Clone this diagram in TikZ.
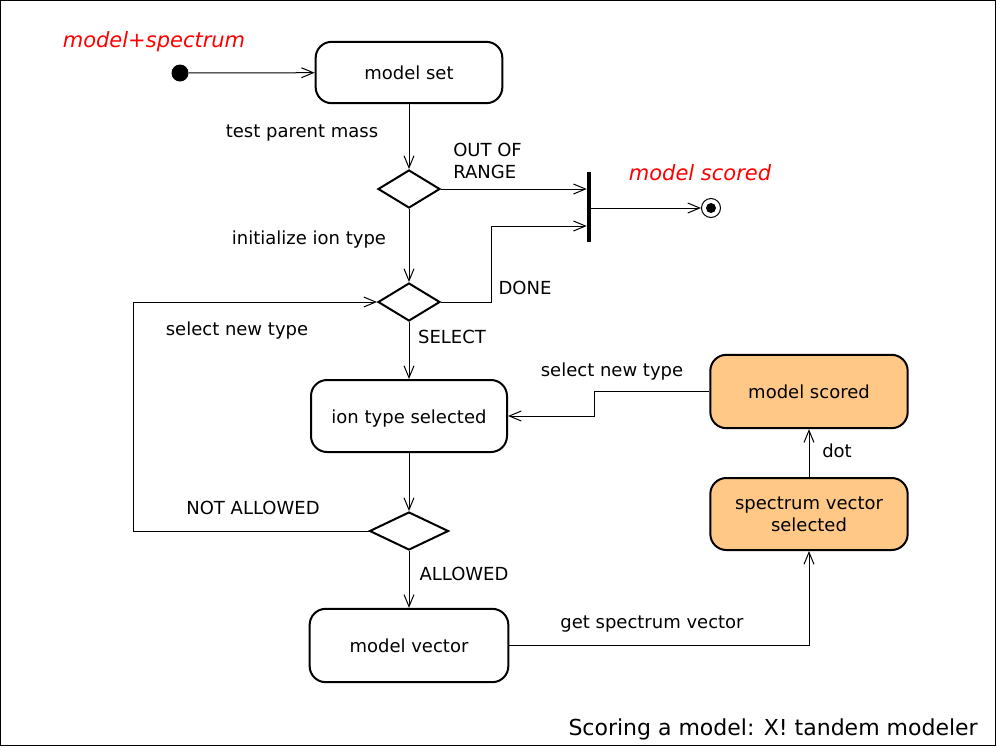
\documentclass[tikz,border=0pt]{standalone}
\usepackage{fontspec}
\setmainfont{DejaVu Sans}
\usetikzlibrary{shapes.geometric,arrows.meta}
\definecolor{scoredfill}{RGB}{255,200,135}
\newcommand{\labfont}{\fontsize{13.5}{16.5}\selectfont}
\tikzset{
  state/.style={draw, line width=1.5pt, rounded corners=12pt, minimum width=148pt, minimum height=54pt, text height=11pt, text depth=0pt, inner sep=0pt, font=\labfont},
  scored/.style={state, fill=scoredfill},
  choice/.style={diamond, draw, line width=1.5pt, minimum width=46.5pt, minimum height=28.5pt, inner sep=0pt},
  start/.style={circle, fill, minimum size=12.75pt, inner sep=0pt},
  final/.style={circle, draw, line width=0.75pt, minimum size=14.25pt, inner sep=0pt},
  syncbar/.style={fill, inner sep=0pt, minimum width=3pt, minimum height=52.5pt},
  lab/.style={font=\labfont, inner sep=0pt, anchor=base},
  note/.style={text=red, font=\itshape\fontsize{15.75}{18}\selectfont, inner sep=0pt, anchor=base},
  flow/.style={line width=0.75pt, -{Straight Barb[length=9pt,width=7.5pt]}}
}
\begin{document}
\begin{tikzpicture}[x=0.75pt, y=-0.75pt]
  \useasboundingbox (0,0) rectangle (997,747);
  \draw[line width=0.75pt] (0.5,0.5) rectangle (995.5,745.5);
  % states
  \node[start] (init) at (180,73) {};
  \node[state, minimum width=140pt, minimum height=46pt] (set) at (409,72.5) {model set};
  \node[choice] (mass) at (409,189) {};
  \node[syncbar] (bar) at (589,207) {};
  \node[final] (fin) at (711,208) {};
  \fill (fin.center) circle (3.75pt);
  \node[choice] (type) at (409,302) {};
  \node[state, minimum width=147pt] (ion) at (409,416) {ion type selected};
  \node[choice, minimum width=59.25pt] (allow) at (409,531) {};
  \node[state, minimum width=149pt, minimum height=55pt] (vec) at (409,645.5) {model vector};
  \node[scored, minimum height=55pt] (score) at (809,391.5) {model scored};
  \node[scored, text height=, text depth=, align=center] (spec) at (809,514) {spectrum vector\\selected};
  \coordinate (doneturn) at (491,226);
  \coordinate (loopturn) at (133,302);
  \coordinate (backturn) at (594,416);
  % transitions
  \path[flow]
    (init) edge (set)
    (set) edge (mass)
    (mass.south) edge (type.north)
    (type.south) edge (ion.north)
    (ion.south) edge (allow.north)
    (allow.south) edge (vec.north)
    (spec) edge (score);
  \draw[flow] (mass.east) -- (mass.east -| bar.west);
  \draw[flow] (bar.east |- fin) -- (fin);
  \draw[flow] (type.east) -| (doneturn) -- (doneturn -| bar.west);
  \draw[flow] (allow.west) -| (loopturn) -- (type.west);
  \draw[flow] (vec.east) -| (spec.south);
  \draw[flow] (score.west) -| (backturn) -- (ion.east);
  % labels
  \node[note] (innote) at (154,47) {model+spectrum};
  \node[note] (outnote) at (700,180) {model scored};
  \node[lab] (testlab) at (302,137) {test parent mass};
  \node[lab, anchor=base west, align=left] (rangelab) at (453,178) {OUT OF\\RANGE};
  \node[lab] (initlab) at (309,244) {initialize ion type};
  \node[lab] (donelab) at (525,294) {DONE};
  \node[lab] (selectlab) at (452,343) {SELECT};
  \node[lab] (newlab) at (237,335) {select new type};
  \node[lab] (backlab) at (612,376) {select new type};
  \node[lab] (dotlab) at (837,457) {dot};
  \node[lab] (notlab) at (253,514) {NOT ALLOWED};
  \node[lab] (allowlab) at (464,580) {ALLOWED};
  \node[lab] (getlab) at (652,628) {get spectrum vector};
  \node[anchor=base east, inner sep=0pt, font=\fontsize{16.5}{20}\selectfont] (title) at (978,735) {Scoring a model: X! tandem modeler};
\end{tikzpicture}
\end{document}
